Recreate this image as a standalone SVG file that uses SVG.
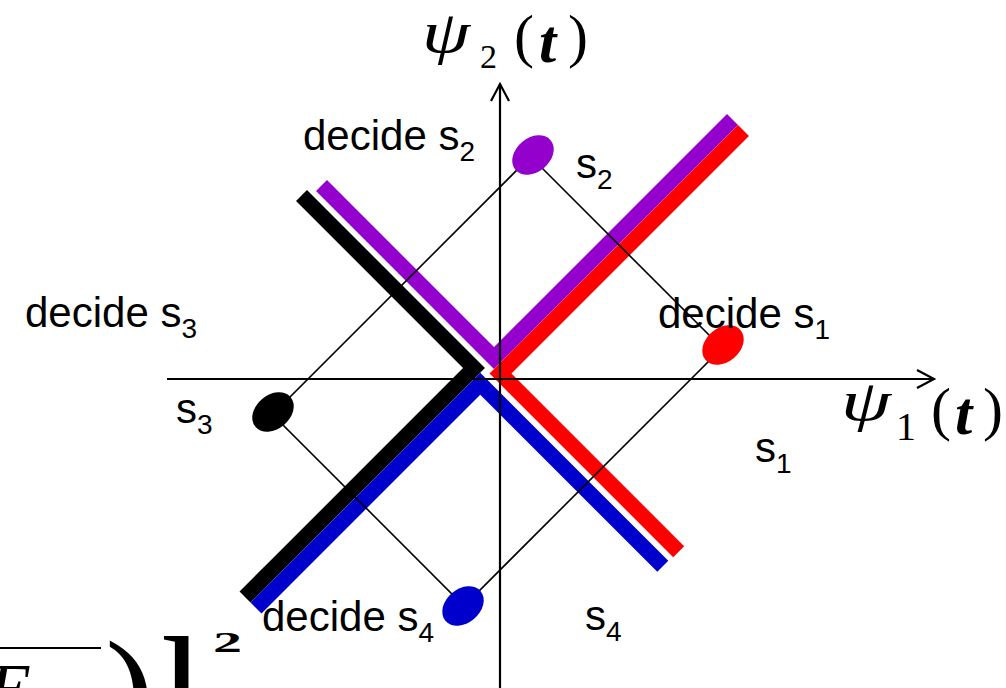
<svg xmlns="http://www.w3.org/2000/svg" width="1006" height="688" viewBox="0 0 1006 688">
<style>
.band{fill:none;stroke-width:15.5;stroke-linejoin:miter;stroke-miterlimit:10;stroke-linecap:butt}
.axis{fill:none;stroke:#000;stroke-width:2.2}
.thin{fill:none;stroke:#000;stroke-width:1.6}
.lbl{font-family:"Liberation Sans",Arial,sans-serif;font-size:42px;fill:#000}
.sub{font-size:28px}
.m{font-family:"Liberation Serif","Times New Roman",serif;fill:#000}
.mi{font-style:italic}
</style>
<defs>
<marker id="arr" markerUnits="userSpaceOnUse" markerWidth="24" markerHeight="24" refX="20" refY="10" orient="auto" viewBox="0 0 24 20">
<path d="M3,1 L20,10 L3,19" fill="none" stroke="#000" stroke-width="2.2"/>
</marker>
</defs>
<g id="regions">
<polyline id="band-s2" class="band" stroke="#9400CC" points="321.5,185.5 494,358 732.5,119.5"/>
<polyline id="band-s1" class="band" stroke="#FF0000" points="743.5,130.5 500.5,373.5 678.7,551.7"/>
<polyline id="band-s3" class="band" stroke="#000000" points="301.5,195.5 474,368 245,597"/>
<polyline id="band-s4" class="band" stroke="#0000CC" points="256,608 480.25,383.75 662.8,566.3"/>
</g>
<g id="connectors">
<path class="thin" d="M530.5,156.5 L722,348 L464,606 L272.5,414.5 Z"/>
<line class="axis" x1="167" y1="379" x2="934" y2="379" marker-end="url(#arr)"/>
<line class="axis" x1="500" y1="688" x2="500" y2="84" marker-end="url(#arr)"/>
</g>
<g id="s2"><ellipse cx="533" cy="155" rx="23" ry="17" fill="#9400CC" transform="rotate(-40 533 155)"/></g>
<g id="s1"><ellipse cx="723" cy="345" rx="23" ry="17" fill="#FF0000" transform="rotate(-40 723 345)"/></g>
<g id="s3"><ellipse cx="273" cy="412" rx="23" ry="17" fill="#000000" transform="rotate(-40 273 412)"/></g>
<g id="s4"><ellipse cx="463" cy="606" rx="23" ry="17" fill="#0000CC" transform="rotate(-40 463 606)"/></g>
<g id="labels">
<text class="lbl" x="303" y="150">decide s<tspan class="sub" dy="11">2</tspan></text>
<text class="lbl" x="576" y="178">s<tspan class="sub" dy="11">2</tspan></text>
<text class="lbl" x="25" y="327">decide s<tspan class="sub" dy="11">3</tspan></text>
<text class="lbl" x="176" y="423">s<tspan class="sub" dy="11">3</tspan></text>
<text class="lbl" x="658" y="328">decide s<tspan class="sub" dy="11">1</tspan></text>
<text class="lbl" x="755" y="462">s<tspan class="sub" dy="11">1</tspan></text>
<text class="lbl" x="262" y="631">decide s<tspan class="sub" dy="11">4</tspan></text>
<text class="lbl" x="585" y="630">s<tspan class="sub" dy="11">4</tspan></text>
</g>
<g id="axis-labels">
<text class="m mi" x="422" y="52" font-size="60" textLength="48" lengthAdjust="spacingAndGlyphs">ψ</text>
<text class="m" x="480" y="68" font-size="34">2</text>
<text class="m" x="514" y="56" font-size="60">(</text>
<text class="m mi" x="539" y="62" font-size="62" font-weight="bold">t</text>
<text class="m" x="568" y="56" font-size="60">)</text>
<text class="m mi" x="841" y="420" font-size="56" textLength="50" lengthAdjust="spacingAndGlyphs">ψ</text>
<text class="m" x="896" y="440" font-size="40">1</text>
<text class="m" x="931" y="429" font-size="60">(</text>
<text class="m mi" x="955" y="434" font-size="62" font-weight="bold">t</text>
<text class="m" x="983" y="429" font-size="60">)</text>
</g>
<g id="formula-fragment">
<line x1="0" y1="648" x2="101" y2="648" stroke="#000" stroke-width="2"/>
<text class="m" x="-12" y="712" font-size="70" font-style="italic">E</text>
<text class="m" x="105" y="745" font-size="150">)</text>
<text class="m" x="160" y="713" font-size="110" font-weight="bold">]</text>
<text class="m" x="213" y="652" font-size="29" font-weight="bold" textLength="29" lengthAdjust="spacingAndGlyphs">2</text>
</g>
</svg>
